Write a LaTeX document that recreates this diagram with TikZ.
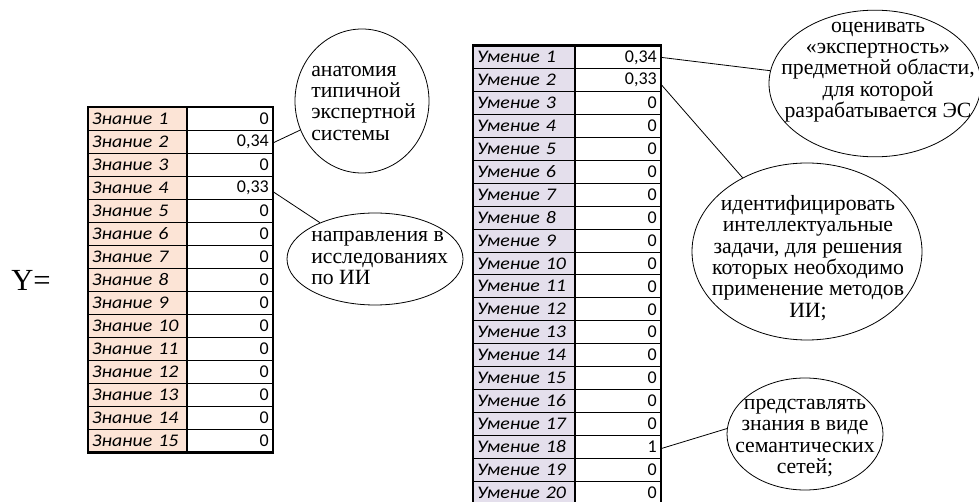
\documentclass[tikz,border=0pt]{standalone}
\usepackage{fontspec}
\setmainfont{Liberation Serif}
\newfontfamily\calfont{Carlito}
\newfontfamily\labfont[FakeStretch=1.12]{Carlito}
\usetikzlibrary{shapes.geometric}
\definecolor{peach}{HTML}{FCE4D6}
\definecolor{lav}{HTML}{E4DFEC}
\begin{document}
\begin{tikzpicture}[x=0.75pt,y=-0.75pt,
  cellfont/.style={font=\calfont\fontsize{13.5}{14}\selectfont},
  labfontstyle/.style={font=\labfont\itshape\fontsize{13.3}{14}\selectfont},
  cell/.style={draw=black, line width=0.6pt, inner xsep=2.8pt, inner ysep=0pt, anchor=north west, cellfont},
  klab/.style={cell, fill=peach, text width=68pt, align=left, minimum height=17.25pt, labfontstyle},
  kval/.style={cell, text width=59pt, align=right, minimum height=17.25pt},
  ulab/.style={cell, fill=lav, text width=70.2pt, align=left, minimum height=17.175pt, labfontstyle},
  uval/.style={cell, text width=59pt, align=right, minimum height=17.175pt},
  frame/.style={draw=black, line width=1.6pt},
  ell/.style={draw=black, ellipse, inner sep=0pt, line width=0.6pt},
  etext/.style={font=\fontsize{16.3}{16}\selectfont, inner sep=0pt},
  link/.style={draw=black, line width=0.6pt}
]
\useasboundingbox (0,0) rectangle (979,502);
\clip (0,0) rectangle (979,502);

% Y=
\node[font=\fontsize{23}{26}\selectfont, inner sep=0pt] (y) at (31,280) {Y=};

% left table
\foreach \i in {1,...,15}{
  \node[klab] (l\i) at (88,{106.7+(\i-1)*23}) {\mbox{Знание \i}};
  \node[kval] (v\i) at (186,{106.7+(\i-1)*23}) {\ifcase\i\or0\or0,34\or0\or0,33\else0\fi};
}
\draw[frame] (l1.north west) rectangle (v15.south east);
\draw[frame] (l1.north east) -- (l15.south east);

% right table
\foreach \i in {1,...,20}{
  \node[ulab] (r\i) at (473,{45.5+(\i-1)*22.9}) {\mbox{Умение \i}};
  \node[uval] (w\i) at (574,{45.5+(\i-1)*22.9}) {\ifcase\i\or0,34\or0,33\else\ifnum\i=18 1\else0\fi\fi};
}
\draw[frame] (r1.north west) rectangle (w20.south east);
\draw[frame] (r1.north east) -- (r20.south east);

% ellipses
\node[ell, minimum width=100.5pt, minimum height=108pt] (e1) at (362,101) {};
\node[etext, align=left, anchor=west] (t1) at (311,103) {анатомия\\типичной\\экспертной\\системы};

\node[ell, minimum width=132pt, minimum height=69pt] (e2) at (375,259) {};
\node[etext, align=left, anchor=west] (t2) at (311,258) {направления в\\исследованиях\\по ИИ};

\node[ell, minimum width=159pt, minimum height=110pt] (e3) at (875,83.5) {};
\node[etext, align=center] (t3) at (878,72) {оценивать\\«экспертность»\\предметной области,\\для которой\\разрабатывается ЭС};

\node[ell, minimum width=172.5pt, minimum height=132.75pt] (e4) at (807,251.5) {};
\node[etext, align=center] (t4) at (808,258) {идентифицировать\\интеллектуальные\\задачи, для решения\\которых необходимо\\применение методов\\ИИ;};

\node[ell, minimum width=117pt, minimum height=84pt] (e5) at (805,434) {};
\node[etext, align=center] (t5) at (805,438) {представлять\\знания в виде\\семантических\\сетей;};

% connectors
\draw[link] ([yshift=-1pt]v2.east) -- (e1);
\draw[link] ([yshift=-3pt]v4.east) -- (e2);
\draw[link] (w1.east) -- (e3);
\draw[link] ([yshift=-3pt]w2.east) -- (e4);
\draw[link] ([yshift=-1.5pt]w18.east) -- (e5.176);
\end{tikzpicture}
\end{document}
